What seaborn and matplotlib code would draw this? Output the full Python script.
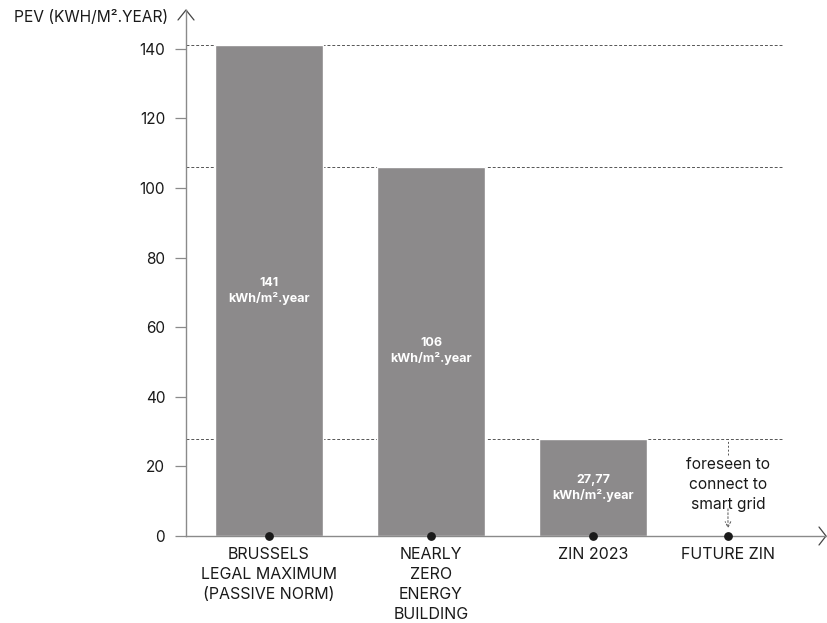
import matplotlib
matplotlib.use('Agg')
import matplotlib.pyplot as plt
import seaborn as sns

# Data
categories = ['BRUSSELS\nLEGAL MAXIMUM\n(PASSIVE NORM)', 'NEARLY\nZERO\nENERGY\nBUILDING',
              'ZIN 2023', 'FUTURE ZIN']
pev = [141, 106, 27.77]
bar_labels = ['141\nkWh/m².year', '106\nkWh/m².year', '27,77\nkWh/m².year']
future_note = 'foreseen to\nconnect to\nsmart grid'
y_ticks = [0, 20, 40, 60, 80, 100, 120, 140]

sns.set_style('white')
plt.rcParams['font.family'] = ['Inter', 'DejaVu Sans']

bar_color = '#8c8a8b'
axis_color = '#8a8a8a'
cat_pos = [0, 1, 2, 2.833]

fig = plt.figure(figsize=(8.27, 6.23), dpi=100)
ax = fig.add_axes([186 / 827, 1 - 536 / 623, 640 / 827, 526 / 623])

sns.barplot(x=categories[:3], y=pev, color=bar_color, width=0.67, saturation=1, ax=ax)

ax.set_xlim(-0.512, 3.438)
ax.set_ylim(0, 151.1)

# dashed reference lines
ax.hlines(pev, -0.512, 3.167, colors='#555555', linestyles=(0, (3, 2)), linewidth=0.7, zorder=0)

# values inside bars
for i, (v, lab) in enumerate(zip(pev, bar_labels)):
    ax.text(i, v / 2, lab, ha='center', va='center', color='white',
            fontsize=9, fontweight='bold', linespacing=1.3)

# dots on the x axis
ax.scatter(cat_pos, [0] * len(cat_pos), s=28, color='#1a1a1a', zorder=5, clip_on=False)

# note for future ZIN
fx = cat_pos[3]
ax.vlines(fx, 23.3, pev[2], colors='#555555', linestyles=(0, (2, 2)), linewidth=0.7)
ax.text(fx, 14.8, future_note, ha='center', va='center', fontsize=11.2,
        color='#1a1a1a', linespacing=1.38)
ax.annotate('', xy=(fx, 2.2), xytext=(fx, 7.8),
            arrowprops=dict(arrowstyle='->', color='#555555', lw=0.7,
                            linestyle=(0, (2, 2)), shrinkA=0, shrinkB=0))

# axes styling
ax.set_xticks(cat_pos)
ax.set_xticklabels(categories, fontsize=11.5, color='#1a1a1a', linespacing=1.42)
ax.set_yticks(y_ticks)
ax.set_yticklabels(y_ticks, fontsize=11, color='#1a1a1a')
ax.tick_params(axis='x', length=0, pad=8)
ax.tick_params(axis='y', length=8, width=0.9, color=axis_color, pad=7, left=True)
sns.despine(ax=ax)
for s in ['left', 'bottom']:
    ax.spines[s].set_color(axis_color)
    ax.spines[s].set_linewidth(1)

# arrow heads on axes
dx, dy = 8 / 640, 10 / 526
ax.plot([-dx, 0, dx], [1 - dy, 1, 1 - dy], transform=ax.transAxes, color='#444444',
        linewidth=0.9, clip_on=False)
dx2, dy2 = 7 / 640, 9 / 526
ax.plot([1 - dx2, 1, 1 - dx2], [dy2, 0, -dy2], transform=ax.transAxes, color='#444444',
        linewidth=0.9, clip_on=False)

fig.text(168 / 827, 1 - 17 / 623, 'PEV (KWH/M².YEAR)', ha='right', va='center',
         fontsize=11.2, color='#1a1a1a')

fig.savefig('out.png', dpi=100)
